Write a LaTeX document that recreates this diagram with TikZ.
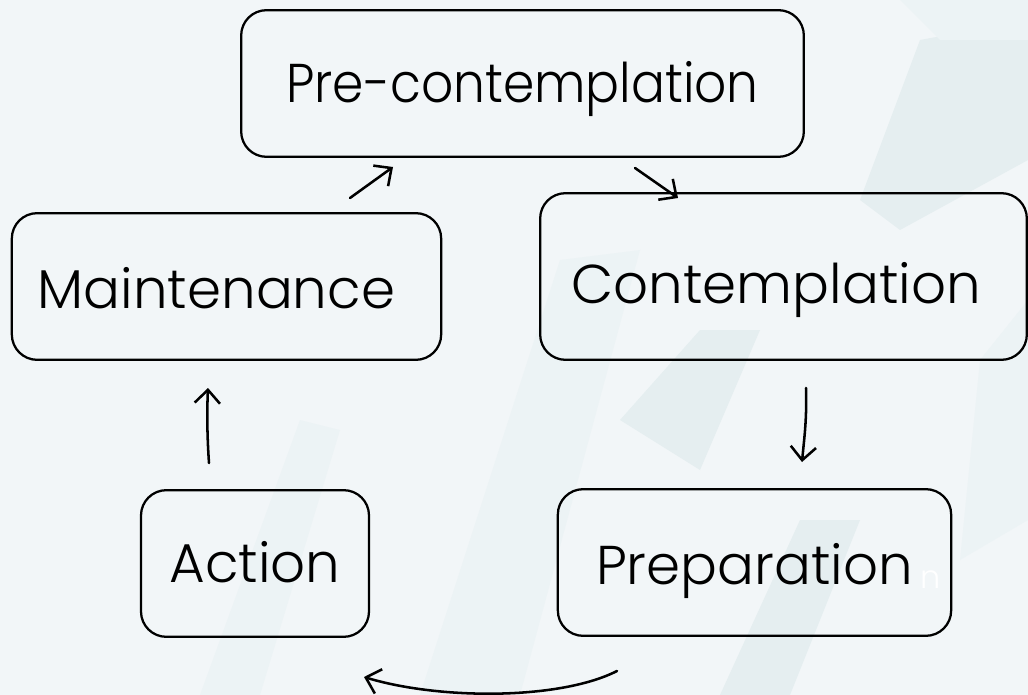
\documentclass[tikz,border=0pt]{standalone}
\usepackage{fontspec}
\setmainfont{Poppins}[UprightFont={* Light}]
\usetikzlibrary{arrows.meta}
\definecolor{paper}{RGB}{242,246,248}
\definecolor{band}{RGB}{229,238,240}
\definecolor{bandlight}{RGB}{236,243,245}
\begin{document}
\begin{tikzpicture}[x=0.75pt,y=-0.75pt,
  stage/.style={draw=black,line width=1.7pt,rounded corners=19pt,inner sep=0pt,
    text height=28.5pt,text depth=0pt,font=\fontsize{41}{44}\selectfont},
  flow/.style={line width=1.9pt,-{Straight Barb[length=10pt,width=19pt,line width=1.9pt]},line cap=round}]
% page and its faint slanted bands
\fill[paper] (0,0) rectangle (1028,695);
\useasboundingbox (0,0) rectangle (1028,695);
\begin{scope}
\clip (0,0) rectangle (1028,695);
\fill[bandlight] (420,695) -- (560,260) -- (640,250) -- (520,695) -- cycle;
\fill[band] (860,200) -- (920,40) -- (1028,20) -- (1028,160) -- (900,230) -- cycle;
\fill[bandlight] (900,0) -- (1028,0) -- (1028,40) -- (940,40) -- cycle;
\fill[band] (620,420) -- (700,330) -- (760,330) -- (700,470) -- cycle;
\fill[bandlight] (980,360) -- (1028,300) -- (1028,520) -- (960,560) -- cycle;
\fill[bandlight] (200,695) -- (300,420) -- (340,430) -- (260,695) -- cycle;
\fill[band] (720,695) -- (800,520) -- (860,520) -- (790,695) -- cycle;
\end{scope}
% stages
\node[stage,minimum width=422pt,minimum height=110pt] (pre) at (522.5,83.5) {\scalebox{0.92}[1]{Pre-contemplation}};
\node[stage,minimum width=365pt,minimum height=125pt] (con) at (783.5,276.5) {\raisebox{-6pt}{Contemplation}\hspace*{11pt}};
\node[stage,minimum width=322pt,minimum height=110pt] (mai) at (226.5,286.5) {\raisebox{-2pt}{Maintenance}\hspace*{15pt}};
\node[stage,minimum width=171pt,minimum height=110pt] (act) at (255,563.5) {Action};
\node[stage,minimum width=295pt,minimum height=110pt] (pra) at (754.5,562.5) {\raisebox{-2pt}{Preparation}};
\node[text=white,font=\fontsize{24}{26}\selectfont,anchor=base west,inner sep=0pt] (tail) at (920,588) {n};
% connectors
\coordinate (p1) at (350,198); \coordinate (p2) at (393,167);
\coordinate (c1) at (635,168); \coordinate (c2) at (678,198);
\coordinate (r1) at (806,388); \coordinate (r2) at (802,462);
\coordinate (l1) at (209,463); \coordinate (l2) at (208,388);
\coordinate (b1) at (617,671); \coordinate (b2) at (364,677);
\draw[flow] (p1) -- (p2);
\draw[flow] (c1) -- (c2);
\draw[flow] (r1) .. controls (807,420) and (804,440) .. (r2);
\draw[flow] (l1) .. controls (207,435) and (207,410) .. (l2);
\draw[flow] (b1) .. controls (560,700) and (440,700) .. (b2);
\end{tikzpicture}
\end{document}
